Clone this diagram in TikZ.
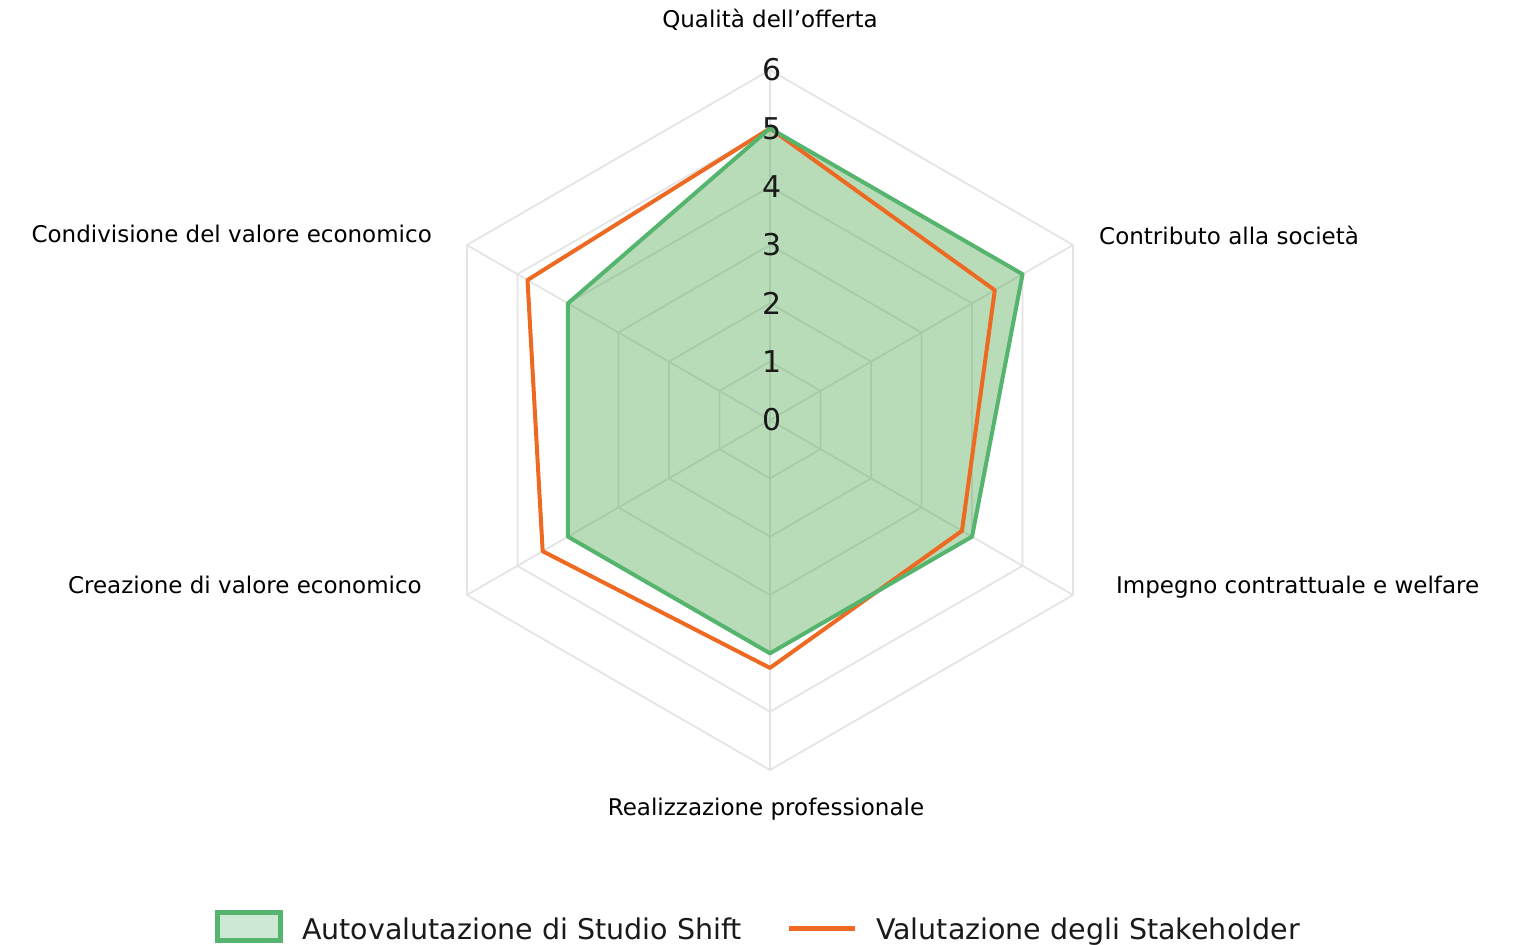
\documentclass[tikz,border=0pt]{standalone}
\usepackage{fontspec}
\setmainfont{DejaVu Sans}
\definecolor{gridgray}{HTML}{E4E4E4}
\definecolor{selfgreen}{HTML}{55B46E}
\definecolor{selffill}{RGB}{78,165,78}
\definecolor{legfill}{HTML}{CDE8D3}
\definecolor{stakeorange}{HTML}{EE6A22}
\definecolor{ticktext}{HTML}{1A1A1A}
\tikzset{
  axislabel/.style={font=\fontsize{23}{27}\selectfont, text=black, inner sep=0pt},
  ticklabel/.style={font=\fontsize{30}{34}\selectfont, text=ticktext, inner sep=0pt},
  legendtext/.style={font=\fontsize{28.5}{32}\selectfont, text=ticktext, inner sep=0pt, anchor=base west},
  gridline/.style={gridgray, line width=1.8pt},
  selfline/.style={selfgreen, line width=4pt, line join=round},
  stakeline/.style={stakeorange, line width=4pt, line join=round},
}
\newcommand{\unitr}{58.33}

\begin{document}
\begin{tikzpicture}[x=1pt,y=1pt]
  \useasboundingbox (-770,-525) rectangle (749,420);
  % grid
  \coordinate (C) at (0,0);
  \foreach \r in {1,...,6}
    \draw[gridline] (90:{\r*\unitr}) -- (30:{\r*\unitr}) -- (-30:{\r*\unitr}) -- (-90:{\r*\unitr}) -- (-150:{\r*\unitr}) -- (150:{\r*\unitr}) -- cycle;
  \foreach \a/\n in {90/1,30/2,-30/3,-90/4,-150/5,150/6}
    \coordinate (ax\n) at (\a:{6*\unitr});
  \foreach \n in {1,...,6}
    \draw[gridline] (C) -- (ax\n);
  % data
  \foreach \a/\v/\n in {90/5/1,30/5/2,-30/4/3,-90/4/4,-150/4/5,150/4/6}
    \coordinate (g\n) at (\a:{\v*\unitr});
  \foreach \a/\v/\n in {90/5/1,30/4.45/2,-30/3.8/3,-90/4.25/4,-150/4.5/5,150/4.8/6}
    \coordinate (o\n) at (\a:{\v*\unitr});
  \fill[selffill, fill opacity=0.4] (g1) -- (g2) -- (g3) -- (g4) -- (g5) -- (g6) -- cycle;
  \draw[stakeline] (o1) -- (o2) -- (o3) -- (o4) -- (o5) -- (o6) -- cycle;
  \draw[selfline] (g1) -- (g2) -- (g3) -- (g4) -- (g5) -- (g6) -- cycle;
  % ticks
  \foreach \k in {0,...,6}
    \node[ticklabel] (t\k) at (2,{\k*\unitr}) {\k};
  % axis labels
  \node[axislabel, anchor=base] (lq) at (0,392) {Qualità dell’offerta};
  \node[axislabel, anchor=base west] (lc) at (329,175) {Contributo alla società};
  \node[axislabel, anchor=base west] (li) at (346,-173) {Impegno contrattuale e welfare};
  \node[axislabel, anchor=base] (lr) at (-4,-395) {Realizzazione professionale};
  \node[axislabel, anchor=base east] (le) at (-348,-173) {Creazione di valore economico};
  \node[axislabel, anchor=base east] (ls) at (-338,177) {Condivisione del valore economico};
  % legend
  \draw[selfgreen, line width=5pt, fill=legfill] (-552.5,-492.5) rectangle (-489.5,-520.5);
  \node[legendtext] (lself) at (-468,-519) {Autovalutazione di Studio Shift};
  \coordinate (ka) at (19,-508);
  \coordinate (kb) at (85,-508);
  \draw[stakeorange, line width=5pt] (ka) -- (kb);
  \node[legendtext] (lstake) at (106,-519) {Valutazione degli Stakeholder};
\end{tikzpicture}
\end{document}
